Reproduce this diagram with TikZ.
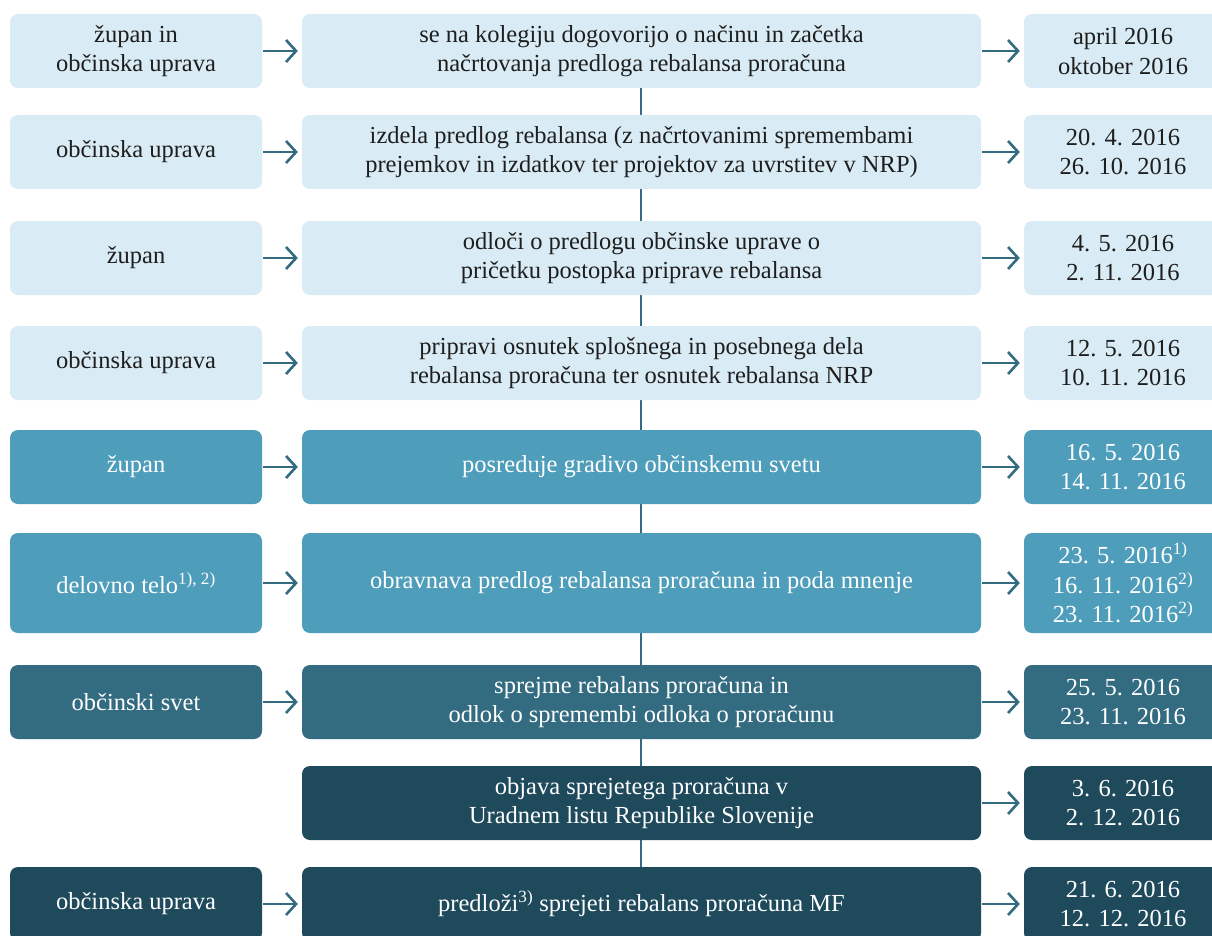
\documentclass[tikz,border=0pt]{standalone}
\usepackage{fontspec}
\setmainfont{Liberation Serif}
\usetikzlibrary{arrows.meta}
\definecolor{cLight}{HTML}{D9EBF4}
\definecolor{cMid}{HTML}{4E9DBA}
\definecolor{cDeep}{HTML}{336B80}
\definecolor{cDark}{HTML}{1F4A5C}
\definecolor{cText}{HTML}{1E1E1E}
\definecolor{cLine}{HTML}{336B80}
\tikzset{
  x=1pt, y=-1pt,
  boxbase/.style={rounded corners=8pt, inner sep=0pt, align=center,
    font=\fontsize{24.5}{29.5}\selectfont, minimum height=74pt},
  lbox/.style={boxbase, minimum width=252pt},
  mbox/.style={boxbase, minimum width=679pt},
  rbox/.style={boxbase, minimum width=198pt},
  light/.style={fill=cLight, text=cText},
  mid/.style={fill=cMid, text=white},
  deep/.style={fill=cDeep, text=white},
  dark/.style={fill=cDark, text=white},
  flowarrow/.style={draw=cLine, line width=2.6pt, -{Straight Barb[length=10pt,width=22pt,line width=2.6pt]}},
  vline/.style={draw=cLine, line width=2.6pt}
}
\begin{document}
\begin{tikzpicture}
\useasboundingbox (0,0) rectangle (1212,936);
\clip (0,0) rectangle (1212,936);
\fill[white] (0,0) rectangle (1212,936);
% vertical spine
\coordinate (vtop) at (641,88);
\coordinate (vbot) at (641,867);
\draw[vline] (vtop) -- (vbot);
% row 1
\node[lbox,light] (l1) at (136,51) {župan in\\občinska uprava};
\node[mbox,light] (m1) at (641.5,51) {se na kolegiju dogovorijo o načinu in začetka\\načrtovanja predloga rebalansa proračuna};
\node[rbox,light] (r1) at (1123,51) {april 2016\\oktober 2016};
% row 2
\node[lbox,light] (l2) at (136,152) {občinska uprava};
\node[mbox,light] (m2) at (641.5,152) {izdela predlog rebalansa (z načrtovanimi spremembami\\prejemkov in izdatkov ter projektov za uvrstitev v NRP)};
\node[rbox,light] (r2) at (1123,152) {20. 4. 2016\\26. 10. 2016};
% row 3
\node[lbox,light] (l3) at (136,258) {župan};
\node[mbox,light] (m3) at (641.5,258) {odloči o predlogu občinske uprave o\\pričetku postopka priprave rebalansa};
\node[rbox,light] (r3) at (1123,258) {4. 5. 2016\\2. 11. 2016};
% row 4
\node[lbox,light] (l4) at (136,363) {občinska uprava};
\node[mbox,light] (m4) at (641.5,363) {pripravi osnutek splošnega in posebnega dela\\rebalansa proračuna ter osnutek rebalansa NRP};
\node[rbox,light] (r4) at (1123,363) {12. 5. 2016\\10. 11. 2016};
% row 5
\node[lbox,mid] (l5) at (136,467) {župan};
\node[mbox,mid] (m5) at (641.5,467) {posreduje gradivo občinskemu svetu};
\node[rbox,mid] (r5) at (1123,467) {16. 5. 2016\\14. 11. 2016};
% row 6
\node[lbox,mid,minimum height=100pt] (l6) at (136,583) {delovno telo\textsuperscript{1), 2)}};
\node[mbox,mid,minimum height=100pt] (m6) at (641.5,583) {obravnava predlog rebalansa proračuna in poda mnenje};
\node[rbox,mid,minimum height=100pt] (r6) at (1123,583) {23. 5. 2016\textsuperscript{1)}\\16. 11. 2016\textsuperscript{2)}\\23. 11. 2016\textsuperscript{2)}};
% row 7
\node[lbox,deep] (l7) at (136,702) {občinski svet};
\node[mbox,deep] (m7) at (641.5,702) {sprejme rebalans proračuna in\\odlok o spremembi odloka o proračunu};
\node[rbox,deep] (r7) at (1123,702) {25. 5. 2016\\23. 11. 2016};
% row 8
\node[mbox,dark] (m8) at (641.5,803) {objava sprejetega proračuna v\\Uradnem listu Republike Slovenije};
\node[rbox,dark] (r8) at (1123,803) {3. 6. 2016\\2. 12. 2016};
% row 9
\node[lbox,dark] (l9) at (136,904) {občinska uprava};
\node[mbox,dark] (m9) at (641.5,904) {predloži\textsuperscript{3)} sprejeti rebalans proračuna MF};
\node[rbox,dark] (r9) at (1123,904) {21. 6. 2016\\12. 12. 2016};
% arrows
\foreach \i in {1,2,3,4,5,6,7,9} {
  \draw[flowarrow] ([xshift=1pt]l\i.east) -- ([xshift=-4pt]m\i.west);
}
\foreach \i in {1,2,3,4,5,6,7,8,9} {
  \draw[flowarrow] ([xshift=1pt]m\i.east) -- ([xshift=-4pt]r\i.west);
}
\end{tikzpicture}
\end{document}
